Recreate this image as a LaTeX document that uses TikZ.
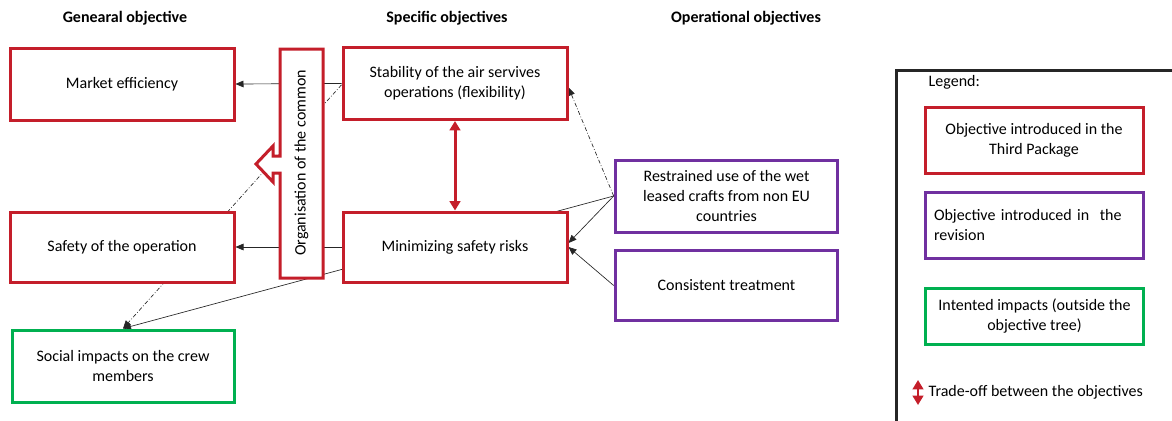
\documentclass[tikz,border=0pt]{standalone}
\usepackage{fontspec}
\setmainfont{Carlito}
\usetikzlibrary{arrows.meta,backgrounds}
\definecolor{objred}{RGB}{196,30,42}
\definecolor{objpurple}{RGB}{112,48,160}
\definecolor{objgreen}{RGB}{0,176,80}
\begin{document}
\begin{tikzpicture}[x=0.75pt,y=-0.75pt,
font=\fontsize{12}{15}\selectfont,
redbox/.style={rectangle, draw=objred, fill=white, line width=2.25pt, minimum width=168pt, minimum height=54pt, align=center},
purplebox/.style={rectangle, draw=objpurple, fill=white, line width=2.25pt, minimum width=167pt, minimum height=54pt, align=center},
greenbox/.style={rectangle, draw=objgreen, fill=white, line width=2.25pt, minimum width=167pt, minimum height=54pt, align=center},
header/.style={font=\fontsize{12}{15}\selectfont\bfseries},
conn/.style={draw=black!85, line width=0.5pt, -{Triangle[length=6pt,width=5pt]}},
dashconn/.style={conn, dash pattern=on 3pt off 1.5pt on 0.6pt off 1.5pt},
tradeoff/.style={draw=objred, line width=2.25pt, {Triangle[length=7pt,width=8pt]}-{Triangle[length=7pt,width=8pt]}},
]
\useasboundingbox (0,0) rectangle (1172,421);

%Headers
\node[header] (hgen)  at (125,18) {Genearal objective};
\node[header] (hspec) at (447,18) {Specific objectives};
\node[header] (hop)   at (746,18) {Operational objectives};

%Nodes
\node[redbox]    (mkt)    at (122,84)    {Market efficiency};
\node[redbox, minimum height=52.5pt]  (safe)   at (122,247)   {Safety of the operation};
\node[greenbox, minimum width=166.5pt] (social) at (123,366) {Social impacts on the crew\\members};
\node[redbox]    (stab)   at (455,83.5)  {Stability of the air servives\\operations (flexibility)};
\node[redbox, minimum height=52.5pt]  (minim)  at (455,247)   {Minimizing safety risks};
\node[purplebox] (restr)  at (726.5,196) {Restrained use of the wet\\leased crafts from non EU\\countries};
\node[purplebox, minimum height=53pt] (cons) at (726.5,285.5) {Consistent treatment};

%Organisation bar with its block arrow
\draw[objred, fill=white, line width=2.25pt, line join=miter]
  (280,49) -- (323,49) -- (323,278) -- (280,278) -- (280,173) -- (273,173)
  -- (273,182) -- (256,164) -- (273,146) -- (273,156) -- (280,156) -- cycle;
\node[rotate=90] (org) at (301.5,163) {Organisation of the common};

%Legend
\draw[black!85, line width=2.25pt] (1172,70) -- (896,70) -- (896,421);
\node[anchor=west] (leg) at (924,82) {Legend:};
\node[redbox, minimum width=163.5pt, minimum height=50pt] (legred) at (1034,140.5) {Objective introduced in the\\Third Package};
\node[purplebox, minimum width=163.5pt, minimum height=49pt, text width=150pt, align=left] (legpurple) at (1034,225.5) {Objective introduced in\ \ the\\revision};
\node[greenbox, minimum width=164pt, minimum height=42pt] (leggreen) at (1034.5,316) {Intented impacts (outside the\\objective tree)};
\coordinate (tradetop) at (918,380);
\coordinate (tradebot) at (918,405);
\node[anchor=west] (legtrade) at (924,392) {Trade-off between the objectives};

%Lines
\begin{scope}[on background layer]
\draw[conn] (stab.west) -- (mkt.east);
\draw[conn] (minim.west) -- (safe.east);
\draw[conn] (restr.west) -- (social.north);
\draw[dashconn] ([yshift=-1pt]stab.west) -- (social.north);
\draw[dashconn] (restr.west) -- ([yshift=-3pt]stab.east);
\draw[conn] (restr.west) -- ([yshift=3pt]minim.east);
\draw[conn] (cons.west) -- (minim.east);
\end{scope}
\draw[tradeoff] (stab.south) -- (minim.north);
\draw[tradeoff, line width=1.5pt] (tradetop) -- (tradebot);
\end{tikzpicture}
\end{document}
